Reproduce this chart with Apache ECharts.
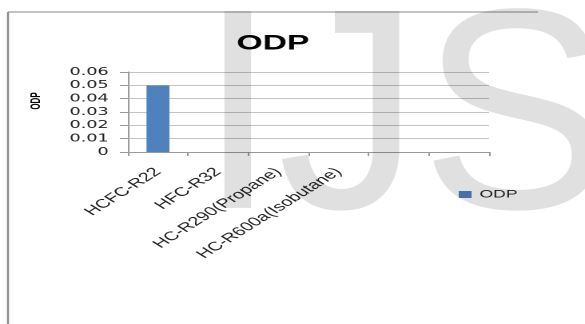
<!DOCTYPE html>
<html>
<head>
<meta charset="utf-8">
<script src="https://cdn.jsdelivr.net/npm/echarts@6/dist/echarts.min.js"></script>
<style>
  html, body { margin: 0; padding: 0; background: #fff; overflow: hidden; width: 585px; height: 324px; }
  #chart { width: 366px; height: 324px; transform-origin: 0 0; }
</style>
</head>
<body>
<div id="chart"></div>
<script>
// Refrigerants and their ozone depletion potential
const categories = ['HCFC-R22', 'HFC-R32', 'HC-R290(Propane)', 'HC-R600a(Isobutane)', '', ''];
const odpValues = [0.05, 0, 0, 0, null, null];

// Value axis range and step
const yMin = 0;
const yMax = 0.06;
const yStep = 0.01;

// The chart is laid out narrow and widened horizontally on screen
const STRETCH = 585 / 366;
const el = document.getElementById('chart');
el.style.transform = 'scaleX(' + STRETCH + ')';

const axisGray = '#9a9a9a';
const textColor = '#222';

const chart = echarts.init(el, null, { renderer: 'canvas', devicePixelRatio: 2 });

chart.setOption({
  animation: false,
  backgroundColor: '#fff',
  title: {
    text: 'ODP',
    left: 143,
    top: 28,
    textStyle: { fontFamily: 'Liberation Sans', fontSize: 21, fontWeight: 'bold', color: '#000' }
  },
  legend: {
    data: ['ODP'],
    left: 282,
    top: 184,
    icon: 'rect',
    itemWidth: 8,
    itemHeight: 7,
    textStyle: { fontFamily: 'Liberation Sans', fontSize: 11, color: textColor }
  },
  grid: { left: 80, right: 60, top: 72, bottom: 172 },
  xAxis: {
    type: 'category',
    data: categories,
    boundaryGap: true,
    axisLine: { show: true, lineStyle: { color: axisGray, width: 1 } },
    axisTick: { show: true, length: 4, lineStyle: { color: axisGray } },
    axisLabel: {
      interval: 0,
      rotate: 45,
      margin: 18,
      fontFamily: 'Liberation Sans',
      fontSize: 12.5,
      color: textColor
    },
    splitLine: { show: false }
  },
  yAxis: {
    type: 'value',
    min: yMin,
    max: yMax,
    interval: yStep,
    name: 'ODP',
    nameLocation: 'middle',
    nameRotate: 90,
    nameGap: 53,
    nameTextStyle: {
      fontFamily: 'Liberation Sans',
      fontSize: 8,
      fontWeight: 'bold',
      color: '#000',
      padding: [0, 0, 0, 22]
    },
    axisLine: { show: true, lineStyle: { color: axisGray, width: 1 } },
    axisTick: { show: true, length: 5, lineStyle: { color: axisGray } },
    axisLabel: {
      margin: 12,
      fontFamily: 'DejaVu Sans',
      fontSize: 11,
      color: textColor,
      formatter: function (v) { return v === 0 ? '0' : v.toFixed(2); }
    },
    splitLine: { show: true, lineStyle: { color: '#c4c4c4', width: 1 } }
  },
  series: [{
    name: 'ODP',
    type: 'bar',
    data: odpValues,
    barWidth: '38%',
    itemStyle: { color: '#4F81BD' }
  }],
  graphic: [
    // chart frame (top and left edges)
    {
      type: 'line',
      shape: { x1: 5, y1: 12, x2: 336.5, y2: 12 },
      style: { stroke: '#8a8a8a', lineWidth: 1 },
      z: 10
    },
    {
      type: 'line',
      shape: { x1: 5, y1: 12, x2: 5, y2: 324 },
      style: { stroke: '#8a8a8a', lineWidth: 1.25 },
      z: 10
    },
    // publisher mark laid over the chart
    {
      type: 'text',
      x: 198 / STRETCH,
      y: 129,
      scaleX: 1 / STRETCH,
      z: 100,
      silent: true,
      style: {
        text: 'IJS',
        fontFamily: 'Liberation Sans',
        fontSize: 286,
        fill: 'rgba(0,0,0,0.12)',
        textAlign: 'left',
        textVerticalAlign: 'middle'
      }
    }
  ]
});
</script>
</body>
</html>
